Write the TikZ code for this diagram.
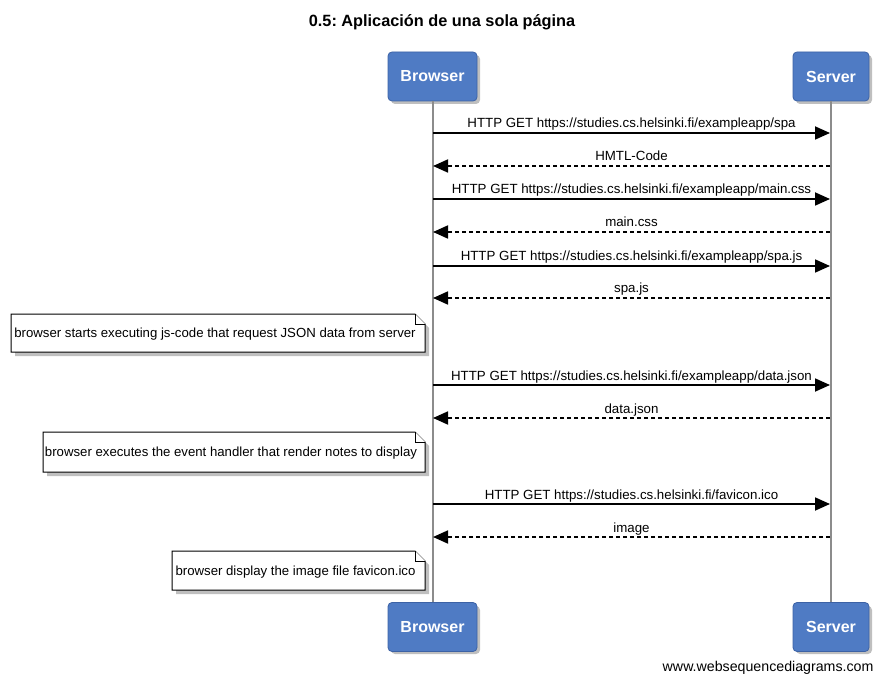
\documentclass[tikz,border=0pt]{standalone}
\usepackage{fontspec}
\setmainfont{Liberation Sans}
\frenchspacing
\usetikzlibrary{arrows.meta}
\definecolor{actorblue}{RGB}{79,123,196}
\definecolor{actorborder}{RGB}{60,98,165}
\definecolor{lifegray}{RGB}{140,140,140}
\tikzset{
  actor/.style={rectangle, rounded corners=4pt, fill=actorblue, draw=actorborder, line width=0.8pt,
    text=white, font=\bfseries\fontsize{16}{18}\selectfont, minimum height=49pt, inner sep=0pt},
  actorshadow/.style={fill=black, opacity=0.25, rounded corners=4pt},
  lifeline/.style={draw=lifegray, line width=2pt},
  msg/.style={line width=1.8pt, -{Triangle[length=15pt,width=13pt]}},
  reply/.style={msg, dash pattern=on 4pt off 3pt},
  lbl/.style={font=\fontsize{13.3}{15}\selectfont, inner sep=0pt, anchor=base, yshift=5pt},
  notetext/.style={font=\fontsize{13.2}{15}\selectfont, inner sep=0pt},
}
\newcommand{\notebox}[6]{% name, x1, y1, x2, y2, text
  \fill[black, opacity=0.25] (#2+4,#3+4) -- (#4+4-10,#3+4) -- (#4+4,#3+14) -- (#4+4,#5+4) -- (#2+4,#5+4) -- cycle;
  \draw[fill=white, line width=1pt] (#2,#3) -- (#4-10,#3) -- (#4,#3+10) -- (#4,#5) -- (#2,#5) -- cycle;
  \draw[line width=0.6pt, fill=white] (#4-10,#3) -- (#4-10,#3+10) -- (#4,#3+10);
  \node[notetext] (#1) at ({(#2+#4)/2-3},{(#3+#5)/2+1.5}) {#6};
}
\begin{document}
\begin{tikzpicture}[x=1pt,y=-1pt]
\useasboundingbox[fill=white] (0,0) rectangle (885,684);

\node[font=\bfseries\fontsize{16.3}{18}\selectfont] (title) at (442,22) {0.5: Aplicación de una sola página};

% actor shadows
\fill[actorshadow] (391,55) rectangle (480,104);
\fill[actorshadow] (796,55) rectangle (872,104);
\fill[actorshadow] (391,606) rectangle (480,654);
\fill[actorshadow] (796,606) rectangle (872,654);

\node[actor, minimum width=89pt] (bt) at (432.5,76.5) {Browser};
\node[actor, minimum width=76pt] (st) at (831,76.5) {Server};
\node[actor, minimum width=89pt] (bb) at (432.5,627) {Browser};
\node[actor, minimum width=76pt] (sb) at (831,627) {Server};

\draw[lifeline] (bt.south) -- (bb.north);
\draw[lifeline] (st.south) -- (sb.north);

% message coordinates
\foreach \i/\y in {1/133,2/166,3/199,4/232,5/266,6/298,7/385,8/418,9/504,10/537}{
  \coordinate (b\i) at (433,\y);
  \coordinate (s\i) at (830,\y);
}

\draw[msg] (b1) -- (s1) node[lbl, midway] (l1) {HTTP GET https://studies.cs.helsinki.fi/exampleapp/spa};
\draw[reply] (s2) -- (b2) node[lbl, midway] (l2) {HMTL-Code};
\draw[msg] (b3) -- (s3) node[lbl, midway] (l3) {HTTP GET https://studies.cs.helsinki.fi/exampleapp/main.css};
\draw[reply] (s4) -- (b4) node[lbl, midway] (l4) {main.css};
\draw[msg] (b5) -- (s5) node[lbl, midway] (l5) {HTTP GET https://studies.cs.helsinki.fi/exampleapp/spa.js};
\draw[reply] (s6) -- (b6) node[lbl, midway] (l6) {spa.js};
\draw[msg] (b7) -- (s7) node[lbl, midway] (l7) {HTTP GET https://studies.cs.helsinki.fi/exampleapp/data.json};
\draw[reply] (s8) -- (b8) node[lbl, midway] (l8) {data.json};
\draw[msg] (b9) -- (s9) node[lbl, midway] (l9) {HTTP GET https://studies.cs.helsinki.fi/favicon.ico};
\draw[reply] (s10) -- (b10) node[lbl, midway] (l10) {image};

\notebox{n1}{11}{314}{425}{352}{browser starts executing js-code that request JSON data from server}
\notebox{n2}{43}{432}{425}{472}{browser executes the event handler that render notes to display}
\notebox{n3}{172}{551}{425}{590}{browser display the image file favicon.ico}

\node[font=\fontsize{14.2}{16}\selectfont, anchor=east] (wsd) at (877,668) {www.websequencediagrams.com};
\end{tikzpicture}
\end{document}
